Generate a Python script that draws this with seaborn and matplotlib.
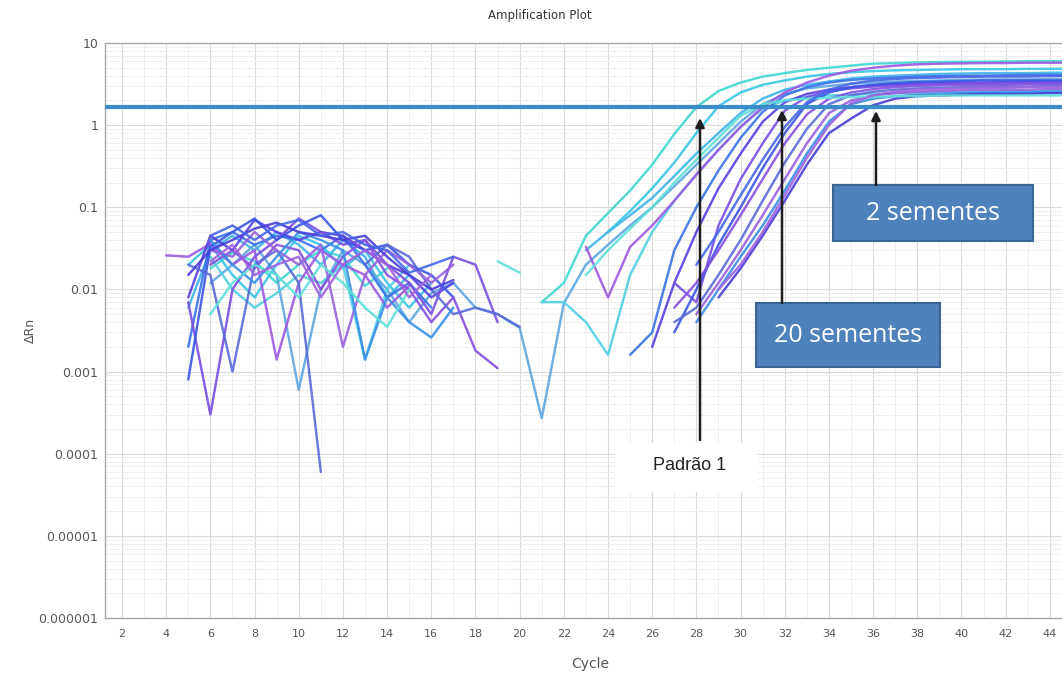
import numpy as np
import pandas as pd
import matplotlib
matplotlib.use("Agg")
import matplotlib.pyplot as plt
from matplotlib.patches import Rectangle, FancyArrowPatch
from matplotlib.ticker import FixedLocator, FixedFormatter, NullFormatter
import seaborn as sns

# ---------------- data ----------------
N = np.nan
cycles = list(range(4, 46))  # cycles 4..45

# values per well, cycles 4-9 | 10-15 | 16-21 | 22-27 | 28-33 | 34-39 | 40-45
well_A1 = [N, N, 0.018, 0.028, 0.022, 0.012,
           0.02, 0.03, 0.025, 0.011, 0.018, N,
           N, N, N, N, N, 0.007,
           0.012, 0.045, 0.085, 0.16, 0.33, 0.78,
           1.66, 2.6, 3.3, 3.9, 4.3, 4.7,
           5.0, 5.3, 5.6, 5.7, 5.8, 5.85,
           5.9, 5.9, 5.95, 6.0, 6.0, 6.0]
well_A2 = [N, 0.02, 0.035, 0.015, 0.008, 0.02,
           0.045, 0.035, 0.018, 0.03, 0.012, 0.006,
           0.012, N, N, N, N, N,
           N, N, 0.05, 0.09, 0.17, 0.35,
           0.8, 1.7, 2.5, 3.1, 3.5, 3.9,
           4.2, 4.4, 4.55, 4.65, 4.7, 4.75,
           4.8, 4.8, 4.8, 4.85, 4.85, 4.85]
well_B1 = [N, 0.006, 0.03, 0.045, 0.03, 0.05,
           0.035, 0.02, 0.04, 0.025, 0.008, 0.015,
           N, N, N, N, N, N,
           N, 0.03, 0.05, 0.08, 0.13, 0.24,
           0.45, 0.8, 1.4, 2.1, 2.7, 3.1,
           3.4, 3.7, 3.9, 4.0, 4.1, 4.2,
           4.25, 4.3, 4.3, 4.3, 4.35, 4.35]
well_B2 = [N, N, 0.012, 0.02, 0.035, 0.015,
           0.0006, 0.01, 0.03, 0.02, 0.01, 0.004,
           0.009, 0.012, 0.006, 0.005, 0.0034, 0.00027,
           0.0068, 0.02, 0.035, 0.06, 0.1, 0.18,
           0.33, 0.6, 1.1, 1.8, 2.4, 2.8,
           3.0, 3.2, 3.3, 3.4, 3.45, 3.5,
           3.55, 3.6, 3.6, 3.6, 3.65, 3.65]
well_B3 = [N, N, 0.025, 0.01, 0.006, 0.009,
           0.015, 0.012, 0.02, 0.0014, 0.01, 0.02,
           N, N, N, N, N, 0.007,
           0.007, 0.004, 0.0016, 0.015, 0.05, 0.12,
           0.25, 0.5, 0.95, 1.6, 2.0, 2.2,
           2.3, 2.35, 2.4, 2.45, 2.5, 2.5,
           2.55, 2.55, 2.6, 2.6, 2.6, 2.6]
well_B4 = [N, 0.002, 0.04, 0.05, 0.035, 0.045,
           0.04, 0.03, 0.045, 0.02, 0.008, 0.012,
           0.006, N, N, N, N, N,
           N, N, N, 0.0016, 0.003, 0.03,
           0.1, 0.28, 0.7, 1.45, 2.3, 2.9,
           3.3, 3.55, 3.7, 3.8, 3.9, 3.95,
           4.0, 4.0, 4.05, 4.1, 4.1, 4.1]
well_B5 = [0.026, 0.025, 0.036, 0.02, 0.03, 0.0014,
           0.012, 0.03, 0.02, 0.015, 0.006, 0.011,
           N, N, N, N, N, N,
           N, 0.033, 0.008, 0.033, 0.06, 0.12,
           0.25, 0.5, 0.95, 1.65, 2.5, 3.3,
           4.0, 4.6, 5.0, 5.3, 5.5, 5.6,
           5.65, 5.7, 5.7, 5.75, 5.75, 5.75]
well_B6 = [N, 0.008, 0.045, 0.03, 0.07, 0.05,
           0.04, 0.05, 0.045, 0.03, 0.02, 0.015,
           0.008, 0.012, N, N, N, N,
           N, N, N, N, 0.002, 0.012,
           0.05, 0.17, 0.45, 1.1, 1.9, 2.4,
           2.7, 2.9, 3.05, 3.15, 3.2, 3.25,
           3.3, 3.3, 3.35, 3.4, 3.4, 3.4]
well_B7 = [N, 0.007, 0.0003, 0.01, 0.025, 0.04,
           0.073, 0.05, 0.035, 0.04, 0.02, 0.012,
           0.005, 0.025, 0.02, 0.004, N, N,
           N, N, N, N, N, 0.012,
           0.007, 0.06, 0.22, 0.6, 1.5, 2.2,
           2.6, 2.8, 2.95, 3.05, 3.1, 3.15,
           3.2, 3.2, 3.2, 3.25, 3.25, 3.25]
well_C1 = [N, 0.0008, 0.033, 0.05, 0.073, 0.04,
           0.06, 0.08, 0.04, 0.03, 0.035, 0.02,
           0.015, 0.008, N, N, N, N,
           N, N, N, N, N, 0.003,
           0.01, 0.035, 0.1, 0.3, 0.8, 1.8,
           2.5, 2.9, 3.1, 3.25, 3.35, 3.4,
           3.45, 3.5, 3.5, 3.5, 3.5, 3.5]
well_C2 = [N, N, 0.02, 0.03, 0.018, 0.035,
           0.03, 0.01, 0.025, 0.04, 0.015, 0.01,
           0.004, 0.008, 0.0018, 0.0011, N, N,
           N, N, N, N, N, 0.006,
           0.012, 0.03, 0.08, 0.22, 0.6, 1.35,
           2.1, 2.5, 2.75, 2.9, 3.0, 3.05,
           3.1, 3.1, 3.1, 3.15, 3.15, 3.15]
well_C3 = [N, 0.02, 0.015, 0.001, 0.02, 0.03,
           0.012, 0.00006, N, 0.02, 0.035, 0.025,
           0.01, 0.005, 0.006, 0.005, 0.0035, N,
           N, N, N, N, N, 0.004,
           0.006, 0.015, 0.04, 0.12, 0.35, 0.9,
           1.8, 2.3, 2.55, 2.7, 2.8, 2.85,
           2.9, 2.9, 2.95, 2.95, 3.0, 3.0]
well_C4 = [N, N, 0.03, 0.025, 0.05, 0.03,
           0.02, 0.035, 0.002, 0.015, 0.03, 0.02,
           0.012, 0.02, N, N, N, N,
           N, N, N, N, N, N,
           0.005, 0.012, 0.03, 0.08, 0.22, 0.6,
           1.4, 2.0, 2.3, 2.45, 2.55, 2.6,
           2.65, 2.7, 2.7, 2.7, 2.75, 2.75]
well_C5 = [N, N, 0.04, 0.02, 0.012, 0.025,
           0.05, 0.04, 0.03, 0.0014, 0.008, 0.004,
           0.0026, 0.006, N, N, N, N,
           N, N, N, N, N, N,
           0.004, 0.01, 0.025, 0.06, 0.16, 0.45,
           1.1, 1.8, 2.1, 2.25, 2.35, 2.4,
           2.45, 2.5, 2.5, 2.5, 2.55, 2.55]
well_C6 = [N, 0.015, 0.03, 0.04, 0.055, 0.065,
           0.05, 0.045, 0.04, 0.045, 0.025, 0.015,
           0.01, 0.013, N, N, N, N,
           N, N, N, N, N, N,
           N, 0.008, 0.018, 0.045, 0.12, 0.33,
           0.8, 1.2, 1.75, 2.1, 2.25, 2.3,
           2.35, 2.4, 2.4, 2.4, 2.45, 2.45]
well_D1 = [N, N, 0.005, 0.012, 0.02, 0.015,
           0.008, 0.02, 0.012, 0.006, 0.0035, 0.01,
           N, N, N, 0.022, 0.016, N,
           N, 0.015, 0.03, 0.055, 0.1, 0.2,
           0.38, 0.7, 1.3, 1.8, 2.0, 2.1,
           2.15, 2.2, 2.2, 2.25, 2.25, 2.3,
           2.3, 2.3, 2.3, 2.3, 2.3, 2.3]
well_D2 = [N, N, 0.045, 0.06, 0.04, 0.06,
           0.07, 0.045, 0.05, 0.035, 0.03, 0.016,
           0.02, 0.025, N, N, N, N,
           N, N, N, N, N, N,
           0.02, 0.05, 0.14, 0.38, 0.95, 1.9,
           2.7, 3.2, 3.5, 3.65, 3.75, 3.8,
           3.85, 3.9, 3.9, 3.9, 3.95, 3.95]
well_D3 = [N, N, 0.022, 0.035, 0.015, 0.02,
           0.025, 0.008, 0.02, 0.03, 0.02, 0.008,
           0.015, N, N, N, N, N,
           N, N, N, N, N, N,
           N, 0.01, 0.02, 0.05, 0.14, 0.4,
           1.0, 1.85, 2.3, 2.55, 2.7, 2.75,
           2.8, 2.85, 2.85, 2.9, 2.9, 2.9]

wells = {
    "A1": well_A1, "A2": well_A2, "B1": well_B1, "B2": well_B2,
    "B3": well_B3, "B4": well_B4, "B5": well_B5, "B6": well_B6,
    "B7": well_B7, "C1": well_C1, "C2": well_C2, "C3": well_C3,
    "C4": well_C4, "C5": well_C5, "C6": well_C6, "D1": well_D1,
    "D2": well_D2, "D3": well_D3,
}
well_colors = {
    "A1": "#3fd8cf", "A2": "#38c6e6", "B1": "#3db4ea", "B2": "#5ea6e0",
    "B3": "#4fd0e4", "B4": "#3a72e6", "B5": "#9d58e2", "B6": "#5840e0",
    "B7": "#7a4ee2", "C1": "#3b55e4", "C2": "#8650e0", "C3": "#5a6ad6",
    "C4": "#9860dc", "C5": "#3a8ee6", "C6": "#4a3ed8", "D1": "#5ee0d8",
    "D2": "#4666e8", "D3": "#a062e0",
}

threshold = 1.66
x_ticks = list(range(2, 46, 2))
y_ticks = [1e-6, 1e-5, 1e-4, 1e-3, 1e-2, 1e-1, 1, 10]
y_tick_labels = ["0.000001", "0.00001", "0.0001", "0.001", "0.01", "0.1", "1", "10"]
title = "Amplification Plot"
x_label = "Cycle"
y_label = "ΔRn"
box_labels = ["2 sementes", "20 sementes"]
std_label = "Padrão 1"

# ---------------- long table with contiguous segments ----------------
rows = []
for name, vals in wells.items():
    seg = 0
    prev_nan = True
    for c, v in zip(cycles, vals):
        if np.isnan(v):
            prev_nan = True
            continue
        if prev_nan:
            seg += 1
            prev_nan = False
        rows.append((c, v, name, f"{name}-{seg}"))
df = pd.DataFrame(rows, columns=["cycle", "drn", "well", "seg"])

# ---------------- figure ----------------
sns.set_style("white")
plt.rcParams["font.family"] = ["DejaVu Sans"]

W, H = 1062, 674
fig = plt.figure(figsize=(W / 100, H / 100), dpi=100)


def fx(p):
    return p / W


def fy(p):
    return 1 - p / H


ax = fig.add_axes([fx(105), fy(618), fx(1083) - fx(105), fy(43) - fy(618)])
ax.set_yscale("log")

sns.lineplot(data=df, x="cycle", y="drn", hue="well", units="seg",
             estimator=None, palette=well_colors, legend=False,
             linewidth=1.75, alpha=0.9, sort=True, ax=ax, zorder=2)

ax.axhline(threshold, color="#3b8dca", lw=3.0, zorder=3)

ax.set_xlim(1.23, 45.5)
ax.set_ylim(1e-6, 10)
ax.set_xlabel("")
ax.set_ylabel("")

ax.xaxis.set_major_locator(FixedLocator(x_ticks))
ax.xaxis.set_major_formatter(FixedFormatter([str(t) for t in x_ticks]))
ax.xaxis.set_minor_locator(FixedLocator(list(range(1, 46))))
ax.yaxis.set_major_locator(FixedLocator(y_ticks))
ax.yaxis.set_major_formatter(FixedFormatter(y_tick_labels))
minor_y = [m * 10.0 ** e for e in range(-6, 1) for m in range(2, 10)]
ax.yaxis.set_minor_locator(FixedLocator(minor_y))
ax.yaxis.set_minor_formatter(NullFormatter())
ax.xaxis.set_minor_formatter(NullFormatter())

ax.set_axisbelow(True)
ax.grid(which="major", color="#dadada", lw=0.8)
ax.grid(which="minor", color="#ededed", lw=0.6)

for s in ["left", "bottom", "top"]:
    ax.spines[s].set_color("#a8a8a8")
    ax.spines[s].set_linewidth(1.0)
ax.spines["right"].set_visible(False)

ax.tick_params(axis="both", which="major", length=3, width=0.8,
               color="#999999", labelcolor="#555555")
ax.tick_params(axis="both", which="minor", length=0)
ax.tick_params(axis="x", labelsize=8, pad=5)
ax.tick_params(axis="y", labelsize=9, pad=2)

fig.text(fx(540), fy(15), title, ha="center", va="center",
         fontsize=8.5, color="#333333")
fig.text(fx(30), fy(330), y_label, ha="center", va="center",
         rotation=90, fontsize=9, color="#555555")
fig.text(fx(590), fy(664), x_label, ha="center", va="center",
         fontsize=10, color="#555555")

# ---------------- annotations ----------------
# white patch behind "Padrão 1"
fig.add_artist(Rectangle((fx(615), fy(492)), fx(758) - fx(615), fy(443) - fy(492),
                         transform=fig.transFigure, facecolor="white",
                         edgecolor="none", zorder=4))
fig.text(fx(690), fy(466), std_label, ha="center", va="center",
         fontsize=13, color="#222222", family="Liberation Sans", zorder=5)

# blue boxes
for (x0, y0, x1, y1), label in zip([(833, 185, 1033, 241), (756, 303, 940, 367)], box_labels):
    fig.add_artist(Rectangle((fx(x0), fy(y1)), fx(x1) - fx(x0), fy(y0) - fy(y1),
                             transform=fig.transFigure, facecolor="#4f81bd",
                             edgecolor="#3a6594", lw=1.5, zorder=4))
    fig.text(fx((x0 + x1) / 2), fy((y0 + y1) / 2), label, ha="center", va="center",
             fontsize=18, color="white", family="Open Sans", zorder=5)

# arrows
for xa, ybase, ytip in [(700, 440, 118), (782, 303, 110), (876, 185, 111)]:
    fig.add_artist(FancyArrowPatch((fx(xa), fy(ybase)), (fx(xa), fy(ytip)),
                                   transform=fig.transFigure, arrowstyle="-|>",
                                   mutation_scale=13, color="#1e1e1e", lw=1.8,
                                   shrinkA=0, shrinkB=0, zorder=6))

fig.savefig("out.png", dpi=100)
